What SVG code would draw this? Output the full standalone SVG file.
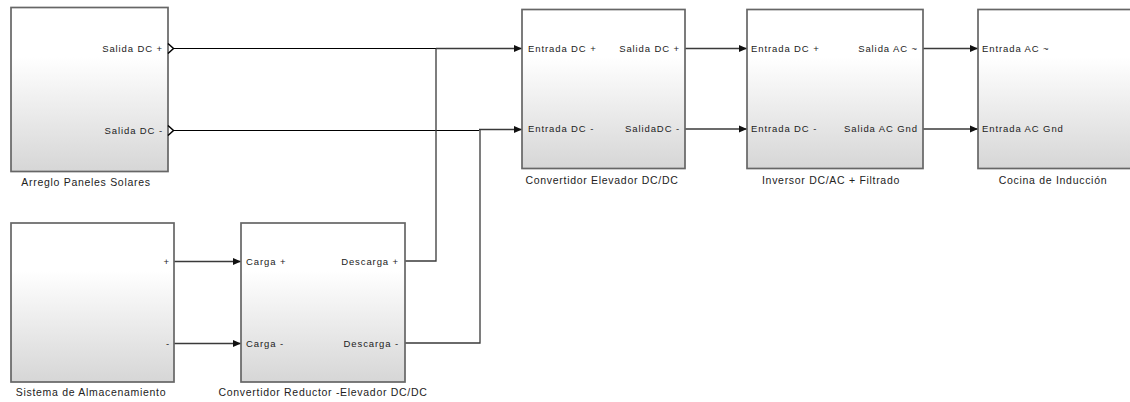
<svg xmlns="http://www.w3.org/2000/svg" width="1130" height="402" viewBox="0 0 1130 402">
<defs>
<linearGradient id="g" x1="0" y1="0" x2="0" y2="1">
<stop offset="0" stop-color="#ffffff"/>
<stop offset="0.3" stop-color="#ffffff"/>
<stop offset="1" stop-color="#d6d6d6"/>
</linearGradient>
<marker id="arr" markerWidth="8" markerHeight="8" refX="8" refY="4" orient="auto" markerUnits="userSpaceOnUse">
<path d="M0,0.5 L8,4 L0,7.5 Z" fill="#111"/>
</marker>
</defs>
<style>
.blk{fill:url(#g);stroke:#666;stroke-width:1.7}
.pt{font-family:"Liberation Sans",Arial,sans-serif;font-size:9.5px;letter-spacing:0.9px;fill:#222}
.lb{font-family:"Liberation Sans",Arial,sans-serif;font-size:10.5px;letter-spacing:0.7px;fill:#222;text-anchor:middle}
.r{text-anchor:end}
.w{fill:none;stroke:#3a3a3a;stroke-width:1.3}
.wk{fill:none;stroke:#000;stroke-width:1.1}
.chev{fill:none;stroke:#000;stroke-width:1.5}
</style>

<g id="connectors">
<path class="wk" d="M174,48.5 H457"/>
<path class="w" d="M436,48.5 H522" marker-end="url(#arr)"/>
<path class="wk" d="M174,130.5 H479"/>
<path class="w" d="M479,129.5 H522" marker-end="url(#arr)"/>
<path class="w" d="M405,261 H436 V48.5"/>
<path class="w" d="M405,343 H480 V129.5"/>
<path class="w" d="M685,48.5 H747" marker-end="url(#arr)"/>
<path class="w" d="M685,129 H747" marker-end="url(#arr)"/>
<path class="w" d="M923,48.5 H978" marker-end="url(#arr)"/>
<path class="w" d="M923,129 H978" marker-end="url(#arr)"/>
<path class="w" d="M174,261.5 H241" marker-end="url(#arr)"/>
<path class="w" d="M174,343.5 H241" marker-end="url(#arr)"/>
</g>

<g id="arreglo">
<rect class="blk" x="11" y="7.5" width="157" height="164"/>
<path class="chev" d="M168,43.5 L173.5,48.5 L168,53.5"/>
<path class="chev" d="M168,125.5 L173.5,130.5 L168,135.5"/>
<text class="pt r" x="163" y="52">Salida DC +</text>
<text class="pt r" x="163" y="134">Salida DC -</text>
<text class="lb" x="86" y="186">Arreglo Paneles Solares</text>
</g>

<g id="elevador">
<rect class="blk" x="522" y="9.5" width="163" height="159"/>
<text class="pt" x="528" y="51.5">Entrada DC +</text>
<text class="pt r" x="680" y="51.5">Salida DC +</text>
<text class="pt" x="528" y="132">Entrada DC -</text>
<text class="pt r" x="680" y="132">SalidaDC -</text>
<text class="lb" x="602" y="184">Convertidor Elevador DC/DC</text>
</g>

<g id="inversor">
<rect class="blk" x="747" y="9.5" width="176" height="159"/>
<text class="pt" x="751" y="51.5">Entrada DC +</text>
<text class="pt r" x="918" y="51.5">Salida AC ~</text>
<text class="pt" x="751" y="132">Entrada DC -</text>
<text class="pt r" x="918" y="132">Salida AC Gnd</text>
<text class="lb" x="831" y="184">Inversor DC/AC + Filtrado</text>
</g>

<g id="cocina">
<rect class="blk" x="978" y="9.5" width="170" height="159"/>
<text class="pt" x="982" y="51.5">Entrada AC ~</text>
<text class="pt" x="982" y="132">Entrada AC Gnd</text>
<text class="lb" x="1053" y="184">Cocina de Inducción</text>
</g>

<g id="almacenamiento">
<rect class="blk" x="11" y="223" width="163" height="159"/>
<text class="pt r" x="170" y="265">+</text>
<text class="pt r" x="170" y="347">-</text>
<text class="lb" x="91" y="396">Sistema de Almacenamiento</text>
</g>

<g id="reductor">
<rect class="blk" x="241" y="223" width="164" height="159"/>
<text class="pt" x="246" y="264.5">Carga +</text>
<text class="pt r" x="399" y="264.5">Descarga +</text>
<text class="pt" x="246" y="346.5">Carga -</text>
<text class="pt r" x="399" y="346.5">Descarga -</text>
<text class="lb" x="323" y="396">Convertidor Reductor -Elevador DC/DC</text>
</g>
</svg>
